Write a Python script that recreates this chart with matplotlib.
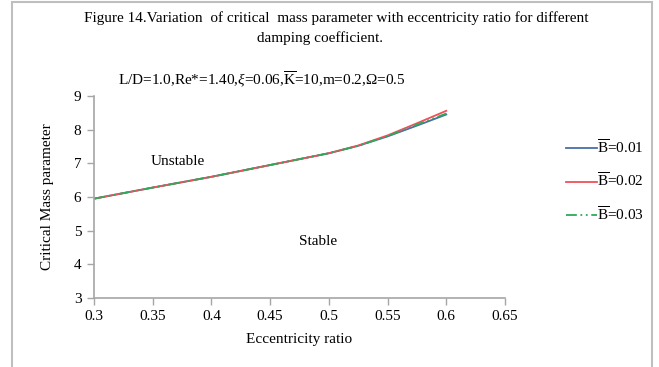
import matplotlib
matplotlib.use("Agg")
import matplotlib.pyplot as plt
from matplotlib.patches import Rectangle

plt.rcParams['font.family'] = ['Liberation Serif', 'DejaVu Serif']
plt.rcParams['mathtext.fontset'] = 'custom'
plt.rcParams['mathtext.rm'] = 'Liberation Serif'
plt.rcParams['mathtext.it'] = 'Liberation Serif:italic'

eccentricity = [0.30, 0.35, 0.40, 0.45, 0.50, 0.525, 0.55, 0.575, 0.60]
mass_b001 = [5.95, 6.28, 6.60, 6.95, 7.30, 7.52, 7.80, 8.12, 8.45]
mass_b002 = [5.95, 6.28, 6.60, 6.95, 7.30, 7.53, 7.83, 8.19, 8.56]
mass_b003 = [5.95, 6.28, 6.60, 6.95, 7.30, 7.52, 7.81, 8.15, 8.48]
labels = [r'$\overline{\mathrm{B}}$=0.01', r'$\overline{\mathrm{B}}$=0.02', r'$\overline{\mathrm{B}}$=0.03']
colors = ['#4A6EA8', '#F0505A', '#2EAA5A']
xticks = [0.3, 0.35, 0.4, 0.45, 0.5, 0.55, 0.6, 0.65]
yticks = [3, 4, 5, 6, 7, 8, 9]

FS = 11

fig = plt.figure(figsize=(6.59, 3.67), dpi=100)
fig.patches.append(Rectangle((12/659, -0.05), (652-12)/659, 1.0 - 2/367 + 0.05,
                             transform=fig.transFigure, fill=False,
                             edgecolor='#BFBFBF', linewidth=1.5, zorder=0))
ax = fig.add_axes([94/659, 1 - 298/367, (505-94)/659, (298-96)/367])

ax.plot(eccentricity, mass_b001, color=colors[0], lw=1.3, label=labels[0])
ax.plot(eccentricity, mass_b002, color=colors[1], lw=1.3, label=labels[1])
ax.plot(eccentricity, mass_b003, color=colors[2], lw=1.3, ls=(0, (6, 2, 1, 2, 1, 2)), label=labels[2])

ax.set_xlim(0.3, 0.65)
ax.set_ylim(3, 9)
ax.set_xticks(xticks)
ax.set_xticklabels([f'{t:g}' for t in xticks])
ax.set_yticks(yticks)
for s in ['top', 'right']:
    ax.spines[s].set_visible(False)
for s in ['left', 'bottom']:
    ax.spines[s].set_color('#A6A6A6')
    ax.spines[s].set_linewidth(1.2)
ax.tick_params(axis='both', direction='out', color='#A6A6A6', length=5, width=1.0,
               labelsize=FS, colors='#A6A6A6', labelcolor='black', pad=4)

ax.set_xlabel('Eccentricity ratio', fontsize=FS, labelpad=7)
ax.set_ylabel('Critical Mass parameter', fontsize=FS, labelpad=14)

ax.text(0.348, 7.04, 'Unstable', fontsize=FS, va='center')
ax.text(0.475, 4.67, 'Stable', fontsize=FS, va='center')

fig.text(336/659, 1 - 18/367, 'Figure 14.Variation  of critical  mass parameter with eccentricity ratio for different',
         ha='center', va='center', fontsize=FS)
fig.text(320/659, 1 - 38/367, 'damping coefficient.', ha='center', va='center', fontsize=FS)
fig.text(118/659, 1 - 80/367,
         r'L/D=1.0,Re*=1.40,$\xi$=0.06,$\overline{\mathrm{K}}$=10,m=0.2,$\Omega$=0.5',
         ha='left', va='center', fontsize=FS)

fig.legend(loc='center left', bbox_to_anchor=(566/659, 1 - 181/367), frameon=False,
           fontsize=FS, handlelength=2.0, handletextpad=0.0, labelspacing=1.0,
           borderaxespad=0, borderpad=0)

fig.savefig('out.png', dpi=100)
